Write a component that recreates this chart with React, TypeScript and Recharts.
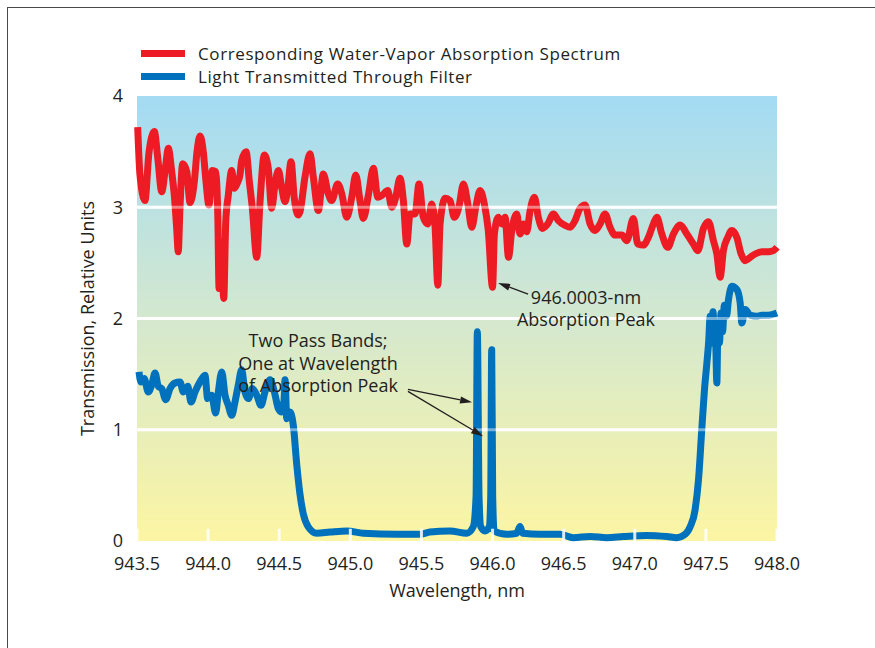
import {
  CartesianGrid,
  Line,
  LineChart,
  ReferenceDot,
  ReferenceLine,
  XAxis,
  YAxis
} from "recharts";

const FONT = '"Open Sans", "Noto Sans", sans-serif';
const INK = "#231f20";
const FS = 18;

// x axis (nm) and y axis ticks
const wavelengthTicks = [943.5, 944.0, 944.5, 945.0, 945.5, 946.0, 946.5, 947.0, 947.5, 948.0];
const transmissionTicks = [0, 1, 2, 3, 4];

// water-vapor absorption spectrum (red)
const absorptionWl = [
  943.505, 943.521, 943.556, 943.584, 943.622, 943.646, 943.674, 943.702, 943.72, 943.744,
  943.762, 943.779, 943.79, 943.802, 943.821, 943.85, 943.873, 943.903, 943.922, 943.943,
  943.966, 943.983, 944.006, 944.03, 944.053, 944.068, 944.077, 944.091, 944.11, 944.124,
  944.142, 944.166, 944.184, 944.203, 944.224, 944.236, 944.267, 944.29, 944.311, 944.342,
  944.365, 944.395, 944.423, 944.447, 944.47, 944.494, 944.518, 944.541, 944.56, 944.583,
  944.606, 944.634, 944.646, 944.681, 944.717, 944.74, 944.775, 944.81, 944.845, 944.869,
  944.911, 944.94, 944.975, 945.01, 945.038, 945.068, 945.091, 945.127, 945.162, 945.193,
  945.225, 945.263, 945.291, 945.319, 945.349, 945.373, 945.397, 945.42, 945.455, 945.483,
  945.513, 945.544, 945.572, 945.596, 945.615, 945.631, 945.666, 945.701, 945.731, 945.763,
  945.795, 945.826, 945.854, 945.882, 945.912, 945.942, 945.97, 946.0, 946.013, 946.041,
  946.065, 946.088, 946.112, 946.135, 946.17, 946.193, 946.217, 946.24, 946.264, 946.294,
  946.322, 946.35, 946.388, 946.428, 946.463, 946.505, 946.545, 946.58, 946.615, 946.65,
  946.686, 946.721, 946.756, 946.791, 946.826, 946.861, 946.909, 946.944, 946.99, 947.021,
  947.06, 947.096, 947.131, 947.155, 947.19, 947.232, 947.272, 947.319, 947.366, 947.412,
  947.443, 947.483, 947.518, 947.553, 947.577, 947.6, 947.623, 947.654, 947.682, 947.717,
  947.748, 947.776, 947.811, 947.846, 947.893, 947.94, 947.975, 948.0
];
const absorptionVal = [
  3.72, 3.29, 3.06, 3.49, 3.68, 3.44, 3.14, 3.38, 3.53, 3.32,
  3.11, 2.81, 2.6, 2.99, 3.39, 3.32, 3.04, 3.23, 3.5, 3.64,
  3.5, 3.26, 3.02, 3.33, 3.32, 2.93, 2.27, 2.69, 2.18, 2.87,
  3.11, 3.33, 3.17, 3.21, 3.29, 3.42, 3.5, 3.23, 2.99, 2.55,
  3.05, 3.47, 3.35, 2.99, 3.2, 3.33, 3.17, 3.05, 3.17, 3.41,
  3.08, 2.93, 2.96, 3.27, 3.48, 3.27, 2.97, 3.3, 3.12, 3.06,
  3.21, 3.12, 2.91, 3.09, 3.29, 3.06, 2.9, 3.11, 3.35, 3.09,
  3.11, 3.15, 3.0, 3.09, 3.26, 3.06, 2.67, 2.94, 2.94, 3.21,
  2.91, 2.85, 3.03, 2.82, 2.3, 2.85, 3.08, 3.06, 2.91, 3.0,
  3.21, 3.03, 2.82, 3.0, 3.15, 3.03, 2.79, 2.28, 2.76, 2.91,
  2.85, 2.91, 2.55, 2.79, 2.94, 2.76, 2.85, 2.78, 2.97, 3.09,
  2.91, 2.81, 2.85, 2.94, 2.88, 2.84, 2.82, 2.88, 2.99, 3.02,
  2.85, 2.79, 2.85, 2.94, 2.82, 2.75, 2.75, 2.7, 2.9, 2.67,
  2.66, 2.73, 2.85, 2.91, 2.76, 2.64, 2.76, 2.84, 2.76, 2.67,
  2.61, 2.81, 2.87, 2.7, 2.58, 2.37, 2.61, 2.73, 2.79, 2.73,
  2.58, 2.52, 2.55, 2.58, 2.6, 2.6, 2.61, 2.64
];

// light transmitted through the filter (blue)
const filterWl = [
  943.514, 943.528, 943.551, 943.579, 943.603, 943.627, 943.65, 943.674, 943.702, 943.732,
  943.767, 943.802, 943.826, 943.857, 943.88, 943.908, 943.943, 943.978, 943.997, 944.025,
  944.053, 944.072, 944.096, 944.119, 944.142, 944.166, 944.189, 944.212, 944.236, 944.259,
  944.283, 944.311, 944.342, 944.372, 944.4, 944.435, 944.466, 944.494, 944.518, 944.534,
  944.541, 944.553, 944.576, 944.599, 944.623, 944.646, 944.67, 944.703, 944.764, 944.857,
  944.975, 945.091, 945.326, 945.49, 945.56, 945.701, 945.819, 945.865, 945.884, 945.893,
  945.905, 945.917, 945.947, 945.977, 945.987, 945.994, 946.001, 946.011, 946.1, 946.17,
  946.193, 946.212, 946.334, 946.475, 946.568, 946.686, 946.803, 946.92, 947.084, 947.225,
  947.295, 947.354, 947.39, 947.424, 947.448, 947.471, 947.49, 947.507, 947.52, 947.53,
  947.54, 947.55, 947.56, 947.568, 947.577, 947.585, 947.595, 947.607, 947.617, 947.63,
  947.645, 947.659, 947.683, 947.718, 947.741, 947.753, 947.776, 947.811, 947.858, 947.893,
  947.94, 948.0
];
const filterVal = [
  1.52, 1.43, 1.46, 1.34, 1.4, 1.51, 1.39, 1.37, 1.27, 1.37,
  1.42, 1.43, 1.34, 1.39, 1.25, 1.34, 1.43, 1.49, 1.28, 1.31,
  1.15, 1.34, 1.52, 1.31, 1.22, 1.13, 1.25, 1.4, 1.54, 1.34,
  1.28, 1.37, 1.31, 1.22, 1.34, 1.45, 1.34, 1.19, 1.16, 1.27,
  1.45, 1.1, 1.16, 1.04, 0.69, 0.42, 0.24, 0.13, 0.07, 0.08,
  0.09, 0.07, 0.06, 0.06, 0.08, 0.09, 0.07, 0.13, 0.4, 1.88,
  0.4, 0.13, 0.09, 0.13, 0.4, 1.72, 0.4, 0.09, 0.06, 0.07,
  0.13, 0.07, 0.06, 0.06, 0.03, 0.04, 0.03, 0.04, 0.05, 0.04,
  0.03, 0.06, 0.13, 0.28, 0.55, 1.0, 1.36, 1.6, 1.8, 2.02,
  1.78, 2.06, 1.82, 1.8, 1.42, 1.95, 1.78, 2.05, 1.88, 2.12,
  2.02, 2.17, 2.29, 2.26, 2.14, 1.96, 2.08, 2.03, 2.02, 2.03,
  2.03, 2.05
];

const absorptionData = absorptionWl.map((wl, i) => ({ wl, value: absorptionVal[i] }));
const filterData = filterWl.map((wl, i) => ({ wl, value: filterVal[i] }));

const series = [
  { name: "Corresponding Water-Vapor Absorption Spectrum", color: "#ed1c24", data: absorptionData },
  { name: "Light Transmitted Through Filter", color: "#0071bc", data: filterData }
];

const notes = [
  { lines: ["Two Pass Bands;", "One at Wavelength", "of Absorption Peak"], x: 944.773, y: 1.8 },
  { lines: ["946.0003-nm", "Absorption Peak"], x: 946.657, y: 2.19 }
];

const arrows = [
  { from: { x: 945.405, y: 1.363 }, to: { x: 945.856, y: 1.247 } },
  { from: { x: 945.405, y: 1.345 }, to: { x: 945.933, y: 0.942 } },
  { from: { x: 946.25, y: 2.22 }, to: { x: 946.039, y: 2.318 } }
];

const ArrowShape = (props: any) => {
  const { x1, y1, x2, y2 } = props;
  const a = Math.atan2(y2 - y1, x2 - x1);
  const len = 12;
  const w = 3.6;
  const bx = x2 - len * Math.cos(a);
  const by = y2 - len * Math.sin(a);
  const pts = `${x2},${y2} ${bx + w * Math.sin(a)},${by - w * Math.cos(a)} ${bx - w * Math.sin(a)},${by + w * Math.cos(a)}`;
  return (
    <g>
      <line x1={x1} y1={y1} x2={bx} y2={by} stroke={INK} strokeWidth={1.3} />
      <polygon points={pts} fill={INK} />
    </g>
  );
};

const noteShape = (lines: string[]) => (props: any) => (
  <text x={props.cx} y={props.cy} textAnchor="middle" fill={INK} fontFamily={FONT} fontSize={FS}>
    {lines.map((l, i) => (
      <tspan key={i} x={props.cx} dy={i === 0 ? "0.35em" : 22.5}>
        {l}
      </tspan>
    ))}
  </text>
);

function ChartLegend() {
  return (
    <div
      style={{
        position: "absolute",
        left: 141,
        top: 42,
        fontFamily: FONT,
        fontSize: 17,
        letterSpacing: "0.6px",
        color: INK
      }}
    >
      {series.map((s) => (
        <div key={s.name} style={{ display: "flex", alignItems: "center", height: 23 }}>
          <span style={{ display: "inline-block", width: 44, height: 7, background: s.color, marginRight: 13 }} />
          <span>{s.name}</span>
        </div>
      ))}
    </div>
  );
}

export default function App() {
  return (
    <div style={{ position: "absolute", left: 0, top: 0, width: 875, height: 648, background: "#fff", overflow: "hidden" }}>
      <div style={{ position: "absolute", left: 7, top: 7, width: 900, height: 700, border: "1px solid #4a4a4a" }} />
      <svg width={0} height={0} style={{ position: "absolute" }}>
        <defs>
          <linearGradient id="plotBg" x1="0" y1="0" x2="0" y2="1">
            <stop offset="0%" stopColor="#a3dbf3" />
            <stop offset="50%" stopColor="#d4e8cf" />
            <stop offset="100%" stopColor="#fcf5a3" />
          </linearGradient>
        </defs>
      </svg>
      <ChartLegend />
      <div style={{ position: "absolute", left: 0, top: 0 }}>
        <LineChart width={875} height={648} margin={{ top: 96, right: 98, bottom: 77, left: 77 }}>
          <CartesianGrid
            vertical={false}
            horizontalValues={[1, 2, 3]}
            stroke="#ffffff"
            strokeWidth={3}
            fill="url(#plotBg)"
            fillOpacity={1}
          />
          <XAxis
            dataKey="wl"
            type="number"
            domain={[943.5, 948]}
            ticks={wavelengthTicks}
            tickFormatter={(v: number) => v.toFixed(1)}
            axisLine={false}
            tickLine={false}
            tickSize={0}
            tickMargin={16}
            height={30}
            tick={{ fill: INK, fontSize: FS, fontFamily: FONT }}
            allowDuplicatedCategory={false}
            label={{ value: "Wavelength, nm", position: "bottom", offset: 13, fill: INK, fontSize: FS, fontFamily: FONT }}
          />
          <YAxis
            type="number"
            domain={[0, 4]}
            ticks={transmissionTicks}
            axisLine={false}
            tickLine={false}
            tickSize={0}
            tickMargin={14}
            width={60}
            tick={{ fill: INK, fontSize: FS, fontFamily: FONT }}
            label={{
              value: "Transmission, Relative Units",
              angle: -90,
              position: "insideLeft",
              offset: 11,
              fill: INK,
              fontSize: FS,
              fontFamily: FONT,
              style: { textAnchor: "middle" }
            }}
          />
          {series.map((s) => (
            <Line
              key={s.name}
              data={s.data}
              dataKey="value"
              name={s.name}
              type="monotone"
              stroke={s.color}
              strokeWidth={7}
              strokeLinejoin="round"
              dot={false}
              activeDot={false}
              isAnimationActive={false}
            />
          ))}
          {[1, 2, 3].map((v) => (
            <ReferenceLine key={`g${v}`} y={v} stroke="#ffffff" strokeOpacity={0.45} strokeWidth={3} />
          ))}
          {wavelengthTicks.map((t) => (
            <ReferenceLine
              key={`t${t}`}
              segment={[{ x: t, y: 0 }, { x: t, y: 0.11 }]}
              stroke="#ffffff"
              strokeOpacity={0.85}
              strokeWidth={3}
            />
          ))}
          {arrows.map((a, i) => (
            <ReferenceLine key={`a${i}`} segment={[a.from, a.to]} shape={ArrowShape} />
          ))}
          {notes.map((n, i) => (
            <ReferenceDot key={`n${i}`} x={n.x} y={n.y} r={0} shape={noteShape(n.lines)} />
          ))}
        </LineChart>
      </div>
    </div>
  );
}
